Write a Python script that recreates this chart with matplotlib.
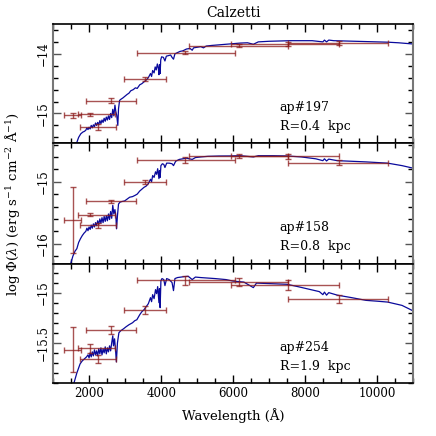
import matplotlib
matplotlib.use("Agg")
import matplotlib.pyplot as plt
from matplotlib.ticker import MultipleLocator, FuncFormatter

# ---- photometry: filter centre and lower / upper wavelength edge (A) ----
filt_wl = [1530, 2014, 2228, 2597, 3542, 4672, 6153, 7522, 8958]
filt_lo = [1300, 1690, 1736, 1903, 2958, 3311, 4772, 5950, 7522]
filt_hi = [1764, 2700, 2728, 3283, 4144, 6042, 7522, 8958, 10300]

phot_197 = [-15.033, -15.017, -15.228, -14.783, -14.422, -13.978, -13.861, -13.833, -13.822]
perr_197 = [0.04, 0.03, 0.05, 0.04, 0.04, 0.03, 0.03, 0.03, 0.03]
phot_158 = [-15.622, -15.531, -15.703, -15.317, -15.006, -14.648, -14.579, -14.589, -14.691]
perr_158 = [0.535, 0.03, 0.04, 0.03, 0.03, 0.05, 0.03, 0.04, 0.04]
phot_254 = [-15.57, -15.555, -15.66, -15.37, -15.177, -14.877, -14.897, -14.924, -15.064]
perr_254 = [0.225, 0.045, 0.037, 0.04, 0.04, 0.045, 0.04, 0.045, 0.04]

# ---- model spectra ----
spec_wl_197 = [1640, 1700, 1760, 1820, 1860, 1900, 1930, 1960, 1990, 2020, 2050, 2080, 2110,
               2140, 2170, 2200, 2230, 2260, 2290, 2320, 2350, 2380, 2410, 2440, 2470, 2500,
               2530, 2560, 2590, 2620, 2650, 2680, 2710, 2735, 2760, 2790, 2810, 2840, 2880,
               2930, 2990, 3050, 3100, 3150, 3220, 3280, 3330, 3400, 3460, 3520, 3580, 3640,
               3700, 3730, 3760, 3800, 3830, 3860, 3890, 3920, 3935, 3950, 3968, 3985, 4010,
               4060, 4102, 4140, 4200, 4260, 4300, 4340, 4380, 4450, 4520, 4600, 4700, 4800,
               4861, 4900, 5000, 5100, 5175, 5250, 5400, 5600, 5800, 6000, 6200, 6400, 6563,
               6700, 7000, 7300, 7600, 7900, 8200, 8498, 8542, 8600, 8662, 8800, 9100, 9400,
               9700, 10000, 10300, 10600, 11000]
spec_fl_197 = [-15.50, -15.40, -15.34, -15.31, -15.30, -15.28, -15.24, -15.27, -15.23, -15.26,
               -15.20, -15.24, -15.19, -15.22, -15.16, -15.20, -15.15, -15.19, -15.12, -15.17,
               -15.11, -15.15, -15.08, -15.13, -15.06, -15.11, -15.04, -15.10, -15.00, -15.07,
               -14.93, -15.04, -14.86, -14.97, -15.03, -15.20, -14.92, -14.78, -14.76, -14.74,
               -14.71, -14.68, -14.66, -14.62, -14.60, -14.57, -14.58, -14.52, -14.50, -14.47,
               -14.44, -14.40, -14.33, -14.38, -14.28, -14.32, -14.22, -14.27, -14.17, -14.25,
               -14.35, -14.18, -14.33, -14.10, -14.05, -14.06, -14.12, -14.04, -14.03, -14.02,
               -14.06, -14.09, -14.00, -13.98, -13.96, -13.95, -13.92, -13.91, -13.94, -13.90,
               -13.89, -13.88, -13.90, -13.87, -13.86, -13.85, -13.84, -13.83, -13.82, -13.815,
               -13.84, -13.80, -13.79, -13.785, -13.78, -13.78, -13.78, -13.80, -13.77, -13.80,
               -13.77, -13.78, -13.785, -13.79, -13.795, -13.80, -13.805, -13.815, -13.835]

spec_wl_158 = [1480, 1540, 1600, 1650, 1700, 1750, 1800, 1850, 1900, 1930, 1960, 1990, 2020,
               2050, 2080, 2110, 2140, 2170, 2200, 2230, 2260, 2290, 2320, 2350, 2380, 2410,
               2440, 2470, 2500, 2530, 2560, 2590, 2620, 2650, 2680, 2710, 2735, 2755, 2780,
               2810, 2850, 2900, 2980, 3050, 3120, 3200, 3270, 3330, 3400, 3460, 3520, 3580,
               3640, 3700, 3730, 3760, 3800, 3840, 3870, 3900, 3935, 3950, 3968, 3990, 4030,
               4070, 4102, 4150, 4220, 4300, 4340, 4400, 4500, 4600, 4700, 4861, 4950, 5100,
               5300, 5600, 5900, 6200, 6563, 6700, 7100, 7500, 7900, 8300, 8498, 8542, 8600,
               8662, 8900, 9300, 9700, 10000, 10300, 10700, 11000]
spec_fl_158 = [-16.32, -16.20, -16.12, -16.08, -15.98, -15.92, -15.87, -15.83, -15.80, -15.75,
               -15.79, -15.73, -15.77, -15.70, -15.75, -15.68, -15.73, -15.66, -15.71, -15.63,
               -15.69, -15.60, -15.67, -15.58, -15.66, -15.56, -15.64, -15.55, -15.63, -15.52,
               -15.61, -15.48, -15.59, -15.38, -15.52, -15.45, -15.55, -15.76, -15.55, -15.36,
               -15.33, -15.32, -15.31, -15.28, -15.25, -15.24, -15.22, -15.20, -15.15, -15.12,
               -15.09, -15.07, -15.03, -14.96, -15.00, -14.90, -14.93, -14.84, -14.88, -14.79,
               -14.95, -14.82, -14.93, -14.74, -14.71, -14.72, -14.77, -14.70, -14.70, -14.71,
               -14.74, -14.67, -14.64, -14.63, -14.62, -14.64, -14.61, -14.60, -14.59, -14.585,
               -14.584, -14.58, -14.60, -14.58, -14.58, -14.584, -14.60, -14.63, -14.66, -14.63,
               -14.665, -14.635, -14.66, -14.67, -14.68, -14.69, -14.70, -14.74, -14.78]

spec_wl_254 = [1570, 1610, 1650, 1700, 1740, 1800, 1860, 1920, 1960, 1990, 2020, 2050, 2080,
               2110, 2140, 2170, 2200, 2230, 2260, 2290, 2320, 2350, 2380, 2410, 2440, 2470,
               2500, 2530, 2560, 2590, 2620, 2650, 2670, 2700, 2725, 2750, 2780, 2820, 2870,
               2950, 3020, 3100, 3200, 3260, 3320, 3400, 3460, 3520, 3580, 3640, 3700, 3730,
               3760, 3800, 3840, 3870, 3900, 3935, 3950, 3968, 3990, 4020, 4070, 4102, 4150,
               4220, 4300, 4340, 4380, 4450, 4550, 4650, 4750, 4861, 4950, 5100, 5300, 5500,
               5800, 6000, 6300, 6563, 6650, 7000, 7500, 7800, 8100, 8400, 8498, 8542, 8600,
               8662, 8900, 9300, 9700, 10000, 10300, 10700, 11000]
spec_fl_254 = [-15.90, -15.85, -15.80, -15.75, -15.71, -15.68, -15.66, -15.64, -15.62, -15.65,
               -15.60, -15.64, -15.59, -15.63, -15.57, -15.62, -15.58, -15.63, -15.56, -15.61,
               -15.55, -15.62, -15.56, -15.60, -15.54, -15.61, -15.55, -15.59, -15.53, -15.58,
               -15.50, -15.43, -15.53, -15.46, -15.56, -15.69, -15.50, -15.40, -15.38, -15.36,
               -15.34, -15.32, -15.30, -15.28, -15.27, -15.22, -15.19, -15.17, -15.14, -15.11,
               -15.05, -15.09, -15.02, -15.06, -14.97, -15.01, -14.94, -15.10, -14.96, -15.15,
               -14.88, -14.86, -14.87, -14.93, -14.86, -14.87, -14.90, -14.98, -14.86, -14.85,
               -14.845, -14.84, -14.837, -14.87, -14.845, -14.85, -14.855, -14.86, -14.87, -14.885,
               -14.895, -14.95, -14.905, -14.91, -14.917, -14.94, -14.965, -14.99, -15.02, -14.995,
               -15.025, -15.00, -15.025, -15.05, -15.077, -15.085, -15.094, -15.127, -15.18]

names = ["ap#197", "ap#158", "ap#254"]
radii = ["R=0.4  kpc", "R=0.8  kpc", "R=1.9  kpc"]
ylims = [(-15.5, -13.5), (-16.32, -14.38), (-15.9, -14.71)]
ymajor = [1.0, 1.0, 0.5]
yminor = [0.2, 0.2, 0.1]

SPEC_COLOR = "#0a0a9c"
ERR_COLOR = "#8b1a1a"
FONT = "DejaVu Serif"

plt.rcParams["font.family"] = FONT
plt.rcParams["mathtext.fontset"] = "dejavuserif"


def ylabel_fmt(v, _pos):
    return f"{v:g}".replace("-", "\u2212")


def main():
    fig = plt.figure(figsize=(4.36, 4.36), dpi=100)
    left, width = 0.1227, 0.824
    bottoms = [0.6713, 0.3956, 0.1216]
    heights = [0.2737, 0.2757, 0.274]

    panels = [
        (spec_wl_197, spec_fl_197, phot_197, perr_197),
        (spec_wl_158, spec_fl_158, phot_158, perr_158),
        (spec_wl_254, spec_fl_254, phot_254, perr_254),
    ]
    axes = []
    for i, (swl, sfl, ph, pe) in enumerate(panels):
        ax = fig.add_axes([left, bottoms[i], width, heights[i]])
        axes.append(ax)
        ax.plot(swl, sfl, color=SPEC_COLOR, lw=0.9, zorder=2)
        xlo = [c - lo for c, lo in zip(filt_wl, filt_lo)]
        xhi = [hi - c for c, hi in zip(filt_wl, filt_hi)]
        ax.errorbar(filt_wl, ph, xerr=[xlo, xhi], yerr=pe, fmt="none",
                    ecolor=ERR_COLOR, elinewidth=1.0, capsize=2.5, capthick=1.0,
                    alpha=0.75, zorder=3)
        ax.set_xlim(1000, 11000)
        ax.set_ylim(*ylims[i])
        ax.xaxis.set_major_locator(MultipleLocator(2000))
        ax.xaxis.set_minor_locator(MultipleLocator(500))
        ax.yaxis.set_major_locator(MultipleLocator(ymajor[i]))
        ax.yaxis.set_minor_locator(MultipleLocator(yminor[i]))
        ax.yaxis.set_major_formatter(FuncFormatter(ylabel_fmt))
        ax.tick_params(which="both", direction="in", top=True, right=True,
                       labelsize=8.5, pad=3)
        ax.tick_params(which="major", length=6, width=1)
        ax.tick_params(which="minor", length=3.5, width=1)
        ax.tick_params(axis="y", colors="#555555", labelcolor="black")
        for lab in ax.get_yticklabels():
            lab.set_rotation(90)
            lab.set_va("center")
        for side in ("left", "right"):
            ax.spines[side].set_color("#777777")
            ax.spines[side].set_linewidth(1.5)
        for side in ("top", "bottom"):
            ax.spines[side].set_linewidth(1.2)
        if i < 2:
            ax.tick_params(axis="x", labelbottom=False)
        ax.text(0.63, 0.30, names[i], transform=ax.transAxes, fontsize=9,
                va="center", ha="left")
        ax.text(0.63, 0.14, radii[i], transform=ax.transAxes, fontsize=9,
                va="center", ha="left")

    axes[0].set_title("Calzetti", fontsize=10, pad=5)
    axes[2].set_xlabel("Wavelength (Å)", fontsize=9.5, labelpad=6)
    fig.text(0.028, 0.533,
             r"log $\Phi(\lambda)$ (erg s$^{-1}$ cm$^{-2}$ Å$^{-1}$)",
             rotation=90, ha="center", va="center", fontsize=9.5)

    fig.savefig("out.png", dpi=100)


if __name__ == "__main__":
    main()
